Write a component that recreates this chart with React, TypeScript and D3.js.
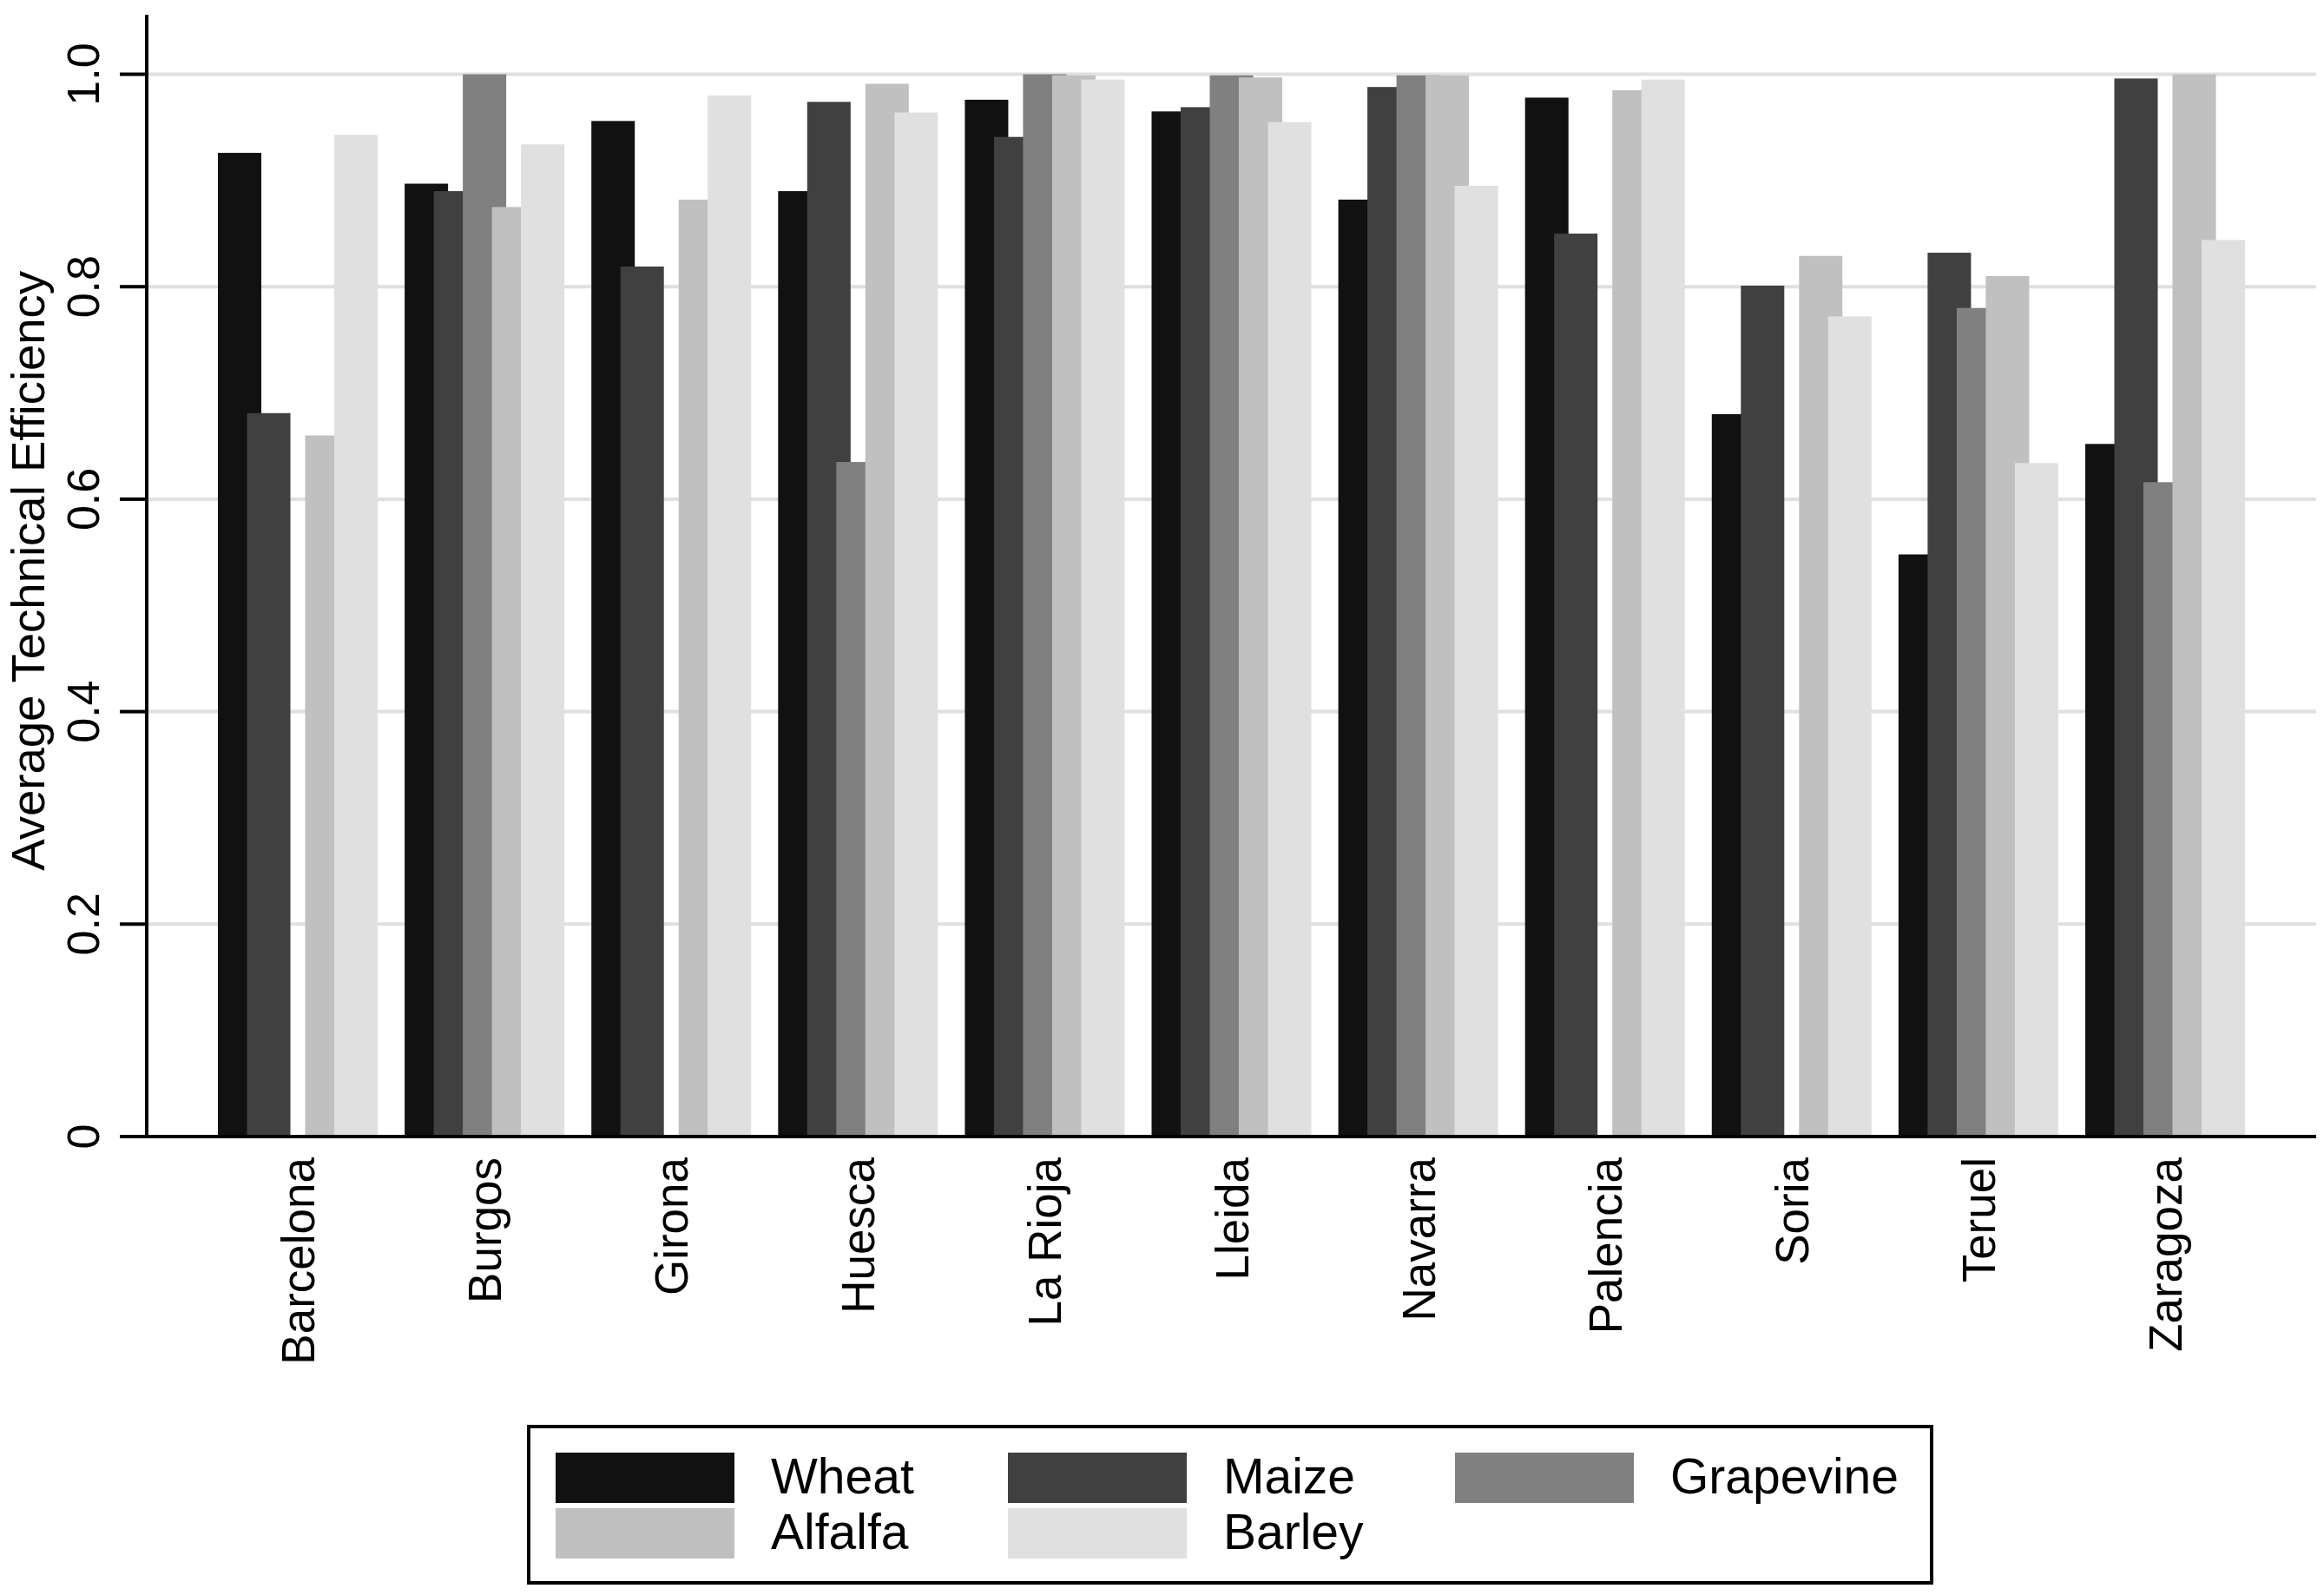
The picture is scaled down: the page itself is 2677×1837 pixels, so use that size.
import React from "react";
import * as d3 from "d3";

const categories = ["Barcelona", "Burgos", "Girona", "Huesca", "La Rioja", "Lleida", "Navarra", "Palencia", "Soria", "Teruel", "Zaragoza"];
const seriesNames = ["Wheat", "Maize", "Grapevine", "Alfalfa", "Barley"];
const wheat = [0.926, 0.897, 0.956, 0.890, 0.976, 0.965, 0.882, 0.978, 0.680, 0.548, 0.652];
const maize = [0.681, 0.890, 0.819, 0.974, 0.941, 0.969, 0.988, 0.850, 0.801, 0.832, 0.996];
const grapevine: (number | null)[] = [null, 1.0, null, 0.635, 1.0, 0.999, 0.999, null, null, 0.780, 0.616];
const alfalfa = [0.660, 0.875, 0.882, 0.991, 0.999, 0.997, 0.999, 0.985, 0.829, 0.810, 1.0];
const barley = [0.943, 0.934, 0.980, 0.964, 0.995, 0.955, 0.895, 0.995, 0.772, 0.634, 0.844];
const yTicks = [0, 0.2, 0.4, 0.6, 0.8, 1.0];
const yTickLabels = ["0", "0.2", "0.4", "0.6", "0.8", "1.0"];
const colors = ["#111111", "#404040", "#808080", "#c0c0c0", "#e0e0e0"];

const seriesValues: (number | null)[][] = [wheat, maize, grapevine, alfalfa, barley];

const W = 2677;
const H = 1837;
const FONT = "'Liberation Sans', Arial, Helvetica, sans-serif";

export default function App() {
  const axisX = 169;
  const plotRight = 2668;
  const y0 = 1309;
  const yTop = 17;
  const barW = 50;

  const x = d3
    .scaleBand<string>()
    .domain(categories)
    .range([axisX, plotRight])
    .paddingInner(0.1446)
    .paddingOuter(0.3813);

  const xs = d3
    .scalePoint<string>()
    .domain(seriesNames)
    .range([0, x.bandwidth() - barW]);

  const y = d3.scaleLinear().domain([0, 1.056]).range([y0, yTop]);

  const legendRows = [
    [0, 1, 2],
    [3, 4],
  ];
  const keyCols = [640, 1161, 1676];
  const keyRowsY = [1673, 1737];

  return (
    <svg
      width={W}
      height={H}
      style={{ position: "absolute", left: 0, top: 0, background: "#fff" }}
      fontFamily={FONT}
    >
      <rect x={0} y={0} width={W} height={H} fill="#ffffff" />
      {yTicks
        .filter((t) => t > 0)
        .map((t) => (
          <line key={"g" + t} x1={axisX} x2={plotRight} y1={y(t)} y2={y(t)} stroke="#e0e0e0" strokeWidth={4} />
        ))}
      {seriesNames.map((s, si) => (
        <g key={s}>
          {categories.map((c, ci) => {
            const v = seriesValues[si][ci];
            if (v == null) return null;
            const bx = (x(c) as number) + (xs(s) as number);
            return <rect key={c} x={bx} y={y(v)} width={barW} height={y0 - y(v)} fill={colors[si]} />;
          })}
        </g>
      ))}
      <line x1={axisX} x2={axisX} y1={yTop} y2={y0 + 2} stroke="#000" strokeWidth={4} />
      {yTicks.map((t, i) => (
        <g key={"t" + t}>
          <line x1={138} x2={axisX} y1={y(t)} y2={y(t)} stroke="#000" strokeWidth={4} />
          <text
            transform={`translate(114,${y(t)}) rotate(-90)`}
            textAnchor="middle"
            fontSize={52}
            fill="#000"
          >
            {yTickLabels[i]}
          </text>
        </g>
      ))}
      <line x1={138} x2={plotRight} y1={y0} y2={y0} stroke="#000" strokeWidth={4} />
      {categories.map((c) => {
        const cx = (x(c) as number) + x.bandwidth() / 2;
        return (
          <text
            key={"l" + c}
            transform={`translate(${cx + 19},1333) rotate(-90)`}
            textAnchor="end"
            fontSize={53}
            fill="#000"
          >
            {c}
          </text>
        );
      })}
      <text transform={`translate(51,${(y(0) + y(1)) / 2 - 40}) rotate(-90)`} textAnchor="middle" fontSize={54.5} fill="#000">
        Average Technical Efficiency
      </text>
      <rect x={609} y={1643} width={1616} height={180} fill="#fff" stroke="#000" strokeWidth={4} />
      {legendRows.map((row, ri) =>
        row.map((si, ci) => (
          <g key={"lg" + si}>
            <rect x={keyCols[ci]} y={keyRowsY[ri]} width={206} height={58} fill={colors[si]} />
            <text x={keyCols[ci] + 248} y={keyRowsY[ri] + 47} fontSize={57} fill="#000">
              {seriesNames[si]}
            </text>
          </g>
        ))
      )}
    </svg>
  );
}
